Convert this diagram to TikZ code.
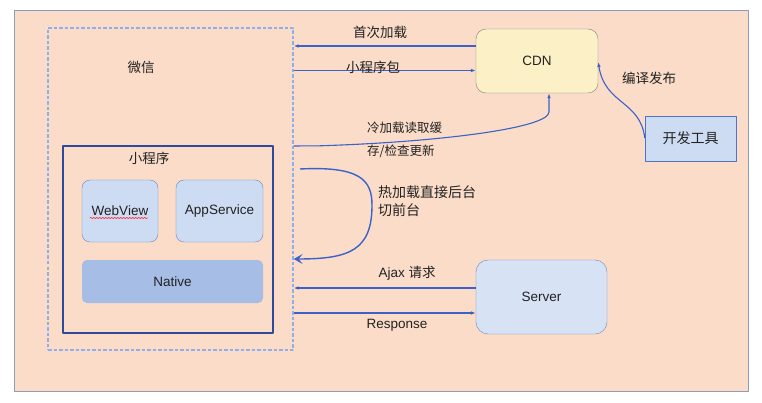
\documentclass[tikz,border=0pt]{standalone}
\usepackage{fontspec}
\setmainfont{Liberation Sans}
\newfontfamily\cjk{Noto Sans CJK SC}
\usetikzlibrary{arrows.meta,decorations.pathmorphing}
\definecolor{bgpeach}{HTML}{FADCC8}
\definecolor{bgline}{HTML}{8E9BB5}
\definecolor{wxdash}{HTML}{8EAEEC}
\definecolor{mpline}{HTML}{2E4A9B}
\definecolor{boxfill}{HTML}{CDDCF3}
\definecolor{boxline}{HTML}{6A86C2}
\definecolor{nativefill}{HTML}{A6BDE5}
\definecolor{cdnfill}{HTML}{FCF0C6}
\definecolor{devline}{HTML}{4C74CF}
\definecolor{arrblue}{HTML}{3B62C9}
\definecolor{txt}{HTML}{222222}
\tikzset{
  box/.style={draw=boxline,fill=boxfill,rounded corners=8pt,inner sep=0pt,text=txt,font=\fontsize{13.5}{16}\selectfont},
  arr/.style={draw=arrblue,line width=1.1pt,-{Latex[length=5pt,width=3.6pt]}},
  lbl/.style={text=txt,inner sep=0pt,font=\fontsize{13.5}{16}\selectfont\cjk},
}
\begin{document}
\begin{tikzpicture}[x=1pt,y=-1pt,line join=round]
  \useasboundingbox (0,0) rectangle (762,403);
  % background sheet
  \draw[bgline,fill=bgpeach,line width=0.8pt] (14,10) rectangle (748,391);
  % weixin and mini program
  \node[draw=wxdash,dash pattern=on 3.5pt off 2pt,line width=1.3pt,minimum width=245pt,minimum height=322pt,inner sep=0pt] (weixin) at (170.5,189) {};
  \node[draw=mpline,line width=1.3pt,minimum width=210pt,minimum height=187pt,inner sep=0pt] (mini) at (168,239.5) {};
  \node[lbl] (wxlabel) at (141,67) {微信};
  \node[lbl] (mplabel) at (149,158) {小程序};
  \node[box,minimum width=76pt,minimum height=62pt] (webview) at (120,211) {WebView};
  \node[box,minimum width=87pt,minimum height=62pt] (appservice) at (219.5,211) {AppService};
  \node[box,draw=none,fill=nativefill,rounded corners=5pt,minimum width=181pt,minimum height=43pt] (native) at (172.5,281.5) {Native};
  \draw[red!85,line width=0.5pt,decorate,decoration={snake,amplitude=0.7pt,segment length=3pt}] (webview.south west |- 0,218) ++(8,0) -- ++(58,0);
  % outside
  \node[box,draw=gray,fill=cdnfill,rounded corners=10pt,minimum width=122pt,minimum height=64pt] (cdn) at (537,61) {CDN};
  \node[box,draw=devline,rounded corners=0pt,minimum width=91pt,minimum height=45pt,font=\fontsize{14}{16}\selectfont\cjk] (devtool) at (690.5,138.5) {开发工具};
  \node[box,fill=boxfill!80!white,rounded corners=12pt,minimum width=131pt,minimum height=74pt] (server) at (541.5,297) {Server};
  % connectors
  \draw[arr] (cdn.west |- 0,46) -- (weixin.east |- 0,46);
  \draw[arr] (weixin.east |- 0,70.5) -- (cdn.west |- 0,70.5);
  \draw[arr] (weixin.east |- 0,146) -- (320,145.8) .. controls (440,142) and (549,128) .. (549,112) -- (cdn.south -| 549,0);
  \coordinate (hotstart) at (300,169);
  \draw[draw=arrblue,line width=1.4pt,-{Stealth[length=9pt,width=10pt,inset=4pt]}] (hotstart) .. controls (360,166) and (372,180) .. (372,205) .. controls (372,250) and (350,259) .. (weixin.east |- 0,259);
  \draw[arr] (devtool.west |- 0,138) .. controls (640,100) and (605,105) .. (cdn.east |- 0,62);
  \draw[arr] (server.west |- 0,288) -- (weixin.east |- 0,288);
  \draw[arr] (weixin.east |- 0,313) -- (server.west |- 0,313);
  % labels
  \node[lbl] (firstload) at (380,32) {首次加载};
  \node[lbl] (package) at (373,67) {小程序包};
  \node[lbl,anchor=west,align=left,font=\fontsize{12.5}{23}\selectfont\cjk] (coldload) at (367,139.5) {冷加载读取缓\\存/检查更新};
  \node[lbl,anchor=west,align=left,font=\fontsize{14}{18.5}\selectfont\cjk] (hotload) at (378,201) {热加载直接后台\\切前台};
  \node[lbl] (publish) at (649,78) {编译发布};
  \node[lbl,font=\fontsize{13.5}{16}\selectfont] (ajax) at (407,273) {Ajax {\cjk 请求}};
  \node[lbl,font=\fontsize{13.5}{16}\selectfont] (response) at (397,325) {Response};
\end{tikzpicture}
\end{document}
